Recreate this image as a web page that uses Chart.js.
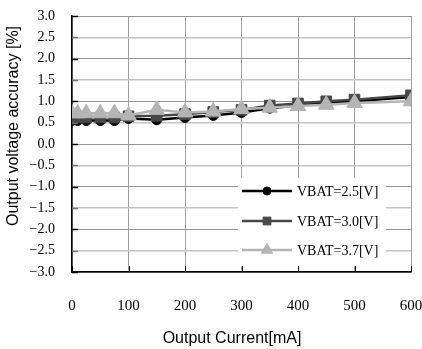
<!DOCTYPE html>
<html>
<head>
<meta charset="utf-8">
<script src="https://cdn.jsdelivr.net/npm/chart.js@4"></script>
<style>
  html, body { margin: 0; padding: 0; background: #fff; }
  #wrap { width: 422px; height: 349px; }
</style>
</head>
<body>
<div id="wrap"><canvas id="chart" width="422" height="349"></canvas></div>
<script>
// data
const currents = [0, 10, 25, 50, 75, 100, 150, 200, 250, 300, 350, 400, 450, 500, 600];
const vbat25 = [0.55, 0.55, 0.55, 0.55, 0.55, 0.6, 0.57, 0.62, 0.67, 0.74, 0.84, 0.9, 0.96, 1.0, 1.1];
const vbat30 = [0.62, 0.62, 0.62, 0.62, 0.62, 0.65, 0.66, 0.7, 0.75, 0.8, 0.9, 0.95, 1.0, 1.04, 1.14];
const vbat37 = [0.72, 0.72, 0.72, 0.72, 0.72, 0.67, 0.8, 0.74, 0.76, 0.82, 0.85, 0.89, 0.92, 0.96, 1.0];
const seriesLabels = ['VBAT=2.5[V]', 'VBAT=3.0[V]', 'VBAT=3.7[V]'];
const xTitle = 'Output Current[mA]';
const yTitle = 'Output voltage accuracy [%]';

const serif = '"Liberation Serif", "DejaVu Serif", serif';
const sans = '"Liberation Sans", Arial, sans-serif';

const toPoints = (ys) => ys.map((y, i) => ({ x: currents[i], y: y }));

const styles = [
  { color: '#000000', point: 'circle', radius: 5, legendRadius: 4 },
  { color: '#474747', point: 'rect', radius: 7.5, legendRadius: 5.5 },
  { color: '#b4b4b4', point: 'triangle', radius: 9, legendRadius: 6.5 },
];

// draws inner tick marks, axis titles and the boxed legend
const extras = {
  id: 'extras',
  afterDraw(chart) {
    const ctx = chart.ctx;
    const xs = chart.scales.x;
    const ys = chart.scales.y;
    const area = chart.chartArea;
    ctx.save();

    // inner ticks on the left axis
    ys.ticks.forEach(t => {
      const py = Math.round(ys.getPixelForValue(t.value)) + 0.5;
      ctx.strokeStyle = Number.isInteger(t.value) ? '#000' : '#707070';
      ctx.lineWidth = 1.5;
      ctx.beginPath();
      ctx.moveTo(area.left, py);
      ctx.lineTo(area.left + 6, py);
      ctx.stroke();
    });
    // inner ticks on the bottom axis
    xs.ticks.forEach(t => {
      const px = Math.round(xs.getPixelForValue(t.value)) + 0.5;
      ctx.strokeStyle = '#000';
      ctx.lineWidth = 1;
      ctx.beginPath();
      ctx.moveTo(px, area.bottom);
      ctx.lineTo(px, area.bottom - 6);
      ctx.stroke();
    });

    // axis titles
    ctx.fillStyle = '#000';
    ctx.font = '16px ' + sans;
    ctx.textAlign = 'center';
    ctx.textBaseline = 'middle';
    ctx.fillText(xTitle, 232, 339);
    ctx.save();
    ctx.translate(14, 126);
    ctx.rotate(-Math.PI / 2);
    ctx.fillText(yTitle, 0, 0);
    ctx.restore();

    // legend
    const bx = 238, by = 178, bw = 148, bh = 88;
    ctx.fillStyle = '#fff';
    ctx.fillRect(bx, by, bw, bh);
    const rows = [191, 221, 250];
    chart.data.datasets.forEach((ds, i) => {
      const st = styles[i];
      const y = rows[i];
      ctx.strokeStyle = st.color;
      ctx.fillStyle = st.color;
      ctx.lineWidth = 2.5;
      ctx.beginPath();
      ctx.moveTo(242, y);
      ctx.lineTo(292, y);
      ctx.stroke();
      ctx.lineWidth = 1;
      Chart.helpers.drawPoint(ctx, {
        pointStyle: st.point, radius: st.legendRadius, borderWidth: 1,
      }, 267, y);
      ctx.fillStyle = '#000';
      ctx.font = '14px ' + serif;
      ctx.textAlign = 'left';
      ctx.textBaseline = 'middle';
      ctx.fillText(ds.label, 297, y + 1);
    });
    ctx.restore();
  }
};

const datasets = [vbat25, vbat30, vbat37].map((vals, i) => ({
  label: seriesLabels[i],
  data: toPoints(vals),
  borderColor: styles[i].color,
  backgroundColor: styles[i].color,
  borderWidth: 2.5,
  pointStyle: styles[i].point,
  pointRadius: styles[i].radius,
  pointBorderWidth: 1,
  showLine: true,
  tension: 0,
  order: 3 - i,
}));

new Chart(document.getElementById('chart'), {
  type: 'scatter',
  data: { datasets: datasets },
  options: {
    responsive: false,
    animation: false,
    events: [],
    layout: { padding: { left: 0, top: 16, right: 11, bottom: 0 } },
    plugins: { legend: { display: false }, tooltip: { enabled: false } },
    scales: {
      x: {
        type: 'linear',
        min: 0, max: 600,
        afterFit: (s) => { s.height = 77; s.paddingLeft = 0; s.paddingRight = 0; },
        ticks: {
          stepSize: 100,
          padding: 25,
          color: '#000',
          font: { family: serif, size: 15 },
        },
        grid: { color: '#a0a0a0', lineWidth: 1, drawTicks: false },
        border: { color: '#000', width: 1.5 },
      },
      y: {
        min: -3, max: 3,
        afterFit: (s) => { s.width = 72; s.paddingTop = 0; s.paddingBottom = 0; },
        ticks: {
          stepSize: 0.5,
          padding: 17,
          color: '#000',
          font: { family: serif, size: 14 },
          callback: (v) => (v < 0 ? '\u2212' + Math.abs(v).toFixed(1) : v.toFixed(1)),
        },
        grid: {
          color: (c) => (c.tick && Number.isInteger(c.tick.value) ? '#959595' : '#c4c4c4'),
          lineWidth: (c) => (c.tick && Number.isInteger(c.tick.value) ? 1 : 1.5),
          drawTicks: false,
        },
        border: { color: '#000', width: 1.5 },
      },
    },
  },
  plugins: [extras],
});
</script>
</body>
</html>
